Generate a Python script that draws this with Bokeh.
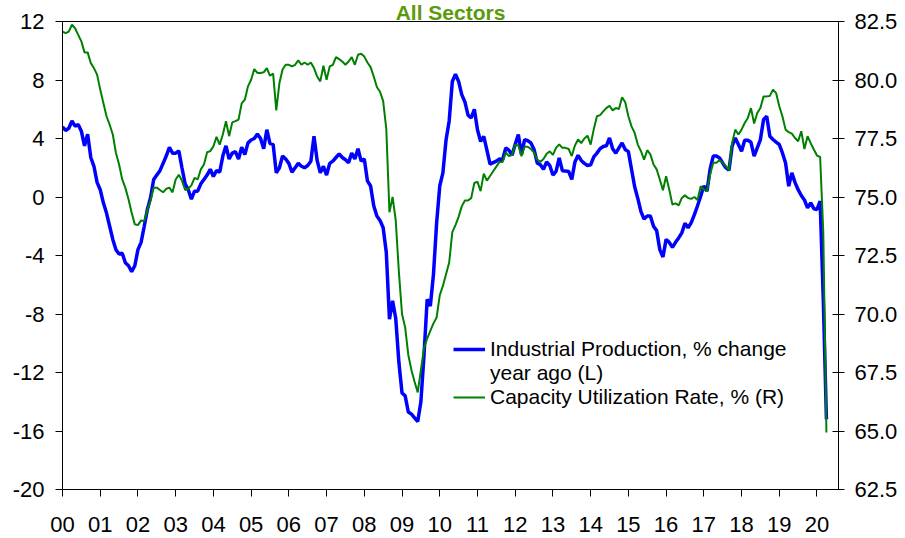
import numpy as np
from bokeh.plotting import figure
from bokeh.models import (Range1d, LinearAxis, FixedTicker, NumeralTickFormatter,
                          Legend, LegendItem)
from bokeh.embed import file_html
from bokeh.resources import INLINE

# ---------------- data (monthly, Jan 2000 .. Apr 2020) ----------------
ip_yoy = [
    4.8, 4.55, 4.7, 5.2, 4.85, 4.95, 4.5, 3.5, 4.3, 2.7, 2.1, 1.0,
    0.5, -0.4, -1.1, -2.0, -2.9, -3.6, -3.9, -3.85, -4.5, -4.7, -5.1, -4.7,
    -3.6, -3.1, -2.0, -0.85, -0.05, 1.2, 1.5, 1.8, 2.3, 2.8, 3.4, 3.0,
    3.0, 3.15, 2.0, 0.9, 0.5, -0.15, 0.4, 0.4, 0.9, 1.2, 1.5, 1.9,
    1.4, 1.8, 1.7, 2.8, 3.5, 2.6, 3.0, 3.1, 2.6, 3.4, 2.9, 3.7,
    3.9, 4.0, 4.3, 4.0, 3.3, 4.6, 3.65, 3.6, 1.65, 2.0, 2.8, 2.6,
    2.3, 1.7, 2.0, 2.3, 2.1, 2.0, 2.15, 2.45, 4.15, 2.5, 1.65, 2.1,
    1.5, 2.3, 2.45, 2.7, 2.95, 2.7, 2.55, 2.35, 3.0, 2.6, 3.3, 2.45,
    2.6, 1.1, 0.75, -0.6, -1.3, -1.6, -2.1, -3.8, -8.35, -7.1, -8.3, -11.3,
    -13.4, -13.6, -14.7, -14.85, -15.1, -15.35, -14.0, -10.8, -7.0, -7.45, -5.3, -1.8,
    0.75, 1.65, 3.9, 5.2, 7.9, 8.4, 7.9, 7.0, 6.5, 5.6, 5.4, 6.0,
    4.6, 3.8, 4.15, 3.2, 2.25, 2.35, 2.45, 2.6, 2.55, 3.35, 3.2, 2.85,
    3.6, 4.27, 2.9, 3.93, 3.85, 3.7, 3.25, 2.33, 2.2, 1.9, 2.4, 2.15,
    1.5, 1.75, 2.67, 1.8, 1.77, 1.75, 1.2, 2.4, 2.85, 2.5, 2.3, 2.15,
    2.2, 2.75, 3.0, 3.3, 3.45, 3.5, 4.04, 3.3, 3.0, 3.36, 3.7, 3.25,
    3.1, 1.9, 0.7, -0.1, -1.0, -1.5, -1.3, -1.3, -2.0, -2.3, -3.6, -4.1,
    -2.9, -3.1, -3.45, -3.1, -2.8, -2.45, -1.8, -2.1, -1.75, -1.2, -0.6, 0.05,
    0.75, 0.4, 1.9, 2.8, 2.8, 2.67, 2.33, 2.0, 1.83, 3.47, 4.04, 3.59,
    3.13, 3.88, 3.88, 3.74, 2.79, 3.36, 3.93, 5.29, 5.52, 4.15, 3.93, 3.75,
    3.59, 3.01, 2.33, 0.74, 1.65, 1.0, 0.5, 0.1, -0.2, -0.74, -0.4, -0.8,
    -0.85, -0.28, -7.0, -15.2,
]
cap_util = [
    82.07, 82.0, 82.07, 82.36, 82.21, 81.93, 81.65, 81.18, 81.18, 80.72, 80.51, 80.23,
    79.59, 79.02, 78.45, 78.09, 77.67, 76.88, 76.39, 75.75, 75.39, 74.9, 74.33, 73.83,
    73.8, 74.0, 73.97, 74.45, 74.85, 75.4, 75.4, 75.3, 75.2, 75.35, 75.4, 75.2,
    75.75, 75.95, 75.7, 75.3, 75.35, 75.5, 75.82, 75.75, 76.18, 76.39, 76.91, 76.96,
    77.17, 77.57, 77.24, 77.67, 78.24, 77.6, 78.19, 78.24, 78.31, 79.0, 79.16, 79.73,
    80.01, 80.47, 80.3, 80.3, 80.33, 80.51, 80.18, 80.27, 78.7, 79.87, 80.45, 80.65,
    80.65, 80.58, 80.65, 80.84, 80.65, 80.75, 80.65, 80.75, 80.51, 80.15, 79.94, 80.61,
    80.01, 80.58, 80.65, 80.98, 80.89, 80.79, 80.65, 80.79, 80.98, 80.65, 81.08, 81.12,
    81.0, 80.75, 80.55, 80.15, 79.7, 79.5, 79.1, 77.9, 74.35, 75.0, 74.0, 71.8,
    70.0, 69.42, 68.25, 67.6, 67.1, 66.65, 67.6, 68.55, 68.95, 69.28, 69.6, 69.85,
    70.8, 71.2, 71.7, 72.2, 73.5, 73.8, 74.15, 74.6, 74.85, 74.85, 74.95, 75.6,
    75.65, 75.25, 76.0, 75.7, 75.9, 76.1, 76.3, 76.5, 76.5, 76.9, 76.75, 76.8,
    77.24, 77.2, 76.74, 77.15, 77.15, 77.05, 76.9, 76.6, 76.5, 76.62, 76.85, 76.95,
    76.8, 77.1, 77.25, 77.1, 77.1, 77.05, 76.75, 77.2, 77.46, 77.3, 77.5, 77.62,
    77.24, 77.9, 78.45, 78.5, 78.66, 78.8, 78.9, 78.7, 78.8, 78.76, 79.26, 79.05,
    78.45, 78.02, 77.74, 77.24, 76.96, 76.6, 77.0, 76.82, 76.39, 76.18, 75.75, 75.29,
    75.89, 75.32, 74.68, 74.73, 74.64, 74.96, 75.07, 74.96, 74.92, 75.0, 74.87, 75.46,
    75.32, 75.25, 75.96, 76.46, 76.46, 76.57, 76.46, 76.32, 76.15, 77.31, 77.88, 77.67,
    77.88, 78.16, 78.38, 78.8, 78.14, 78.59, 78.8, 79.3, 79.3, 79.32, 79.59, 79.44,
    78.88, 78.45, 77.88, 77.77, 77.71, 77.52, 77.38, 77.81, 77.05, 77.6, 77.3, 77.03,
    76.77, 76.71, 73.5, 64.94,
]
year_ticks = list(range(0, 21))
year_labels = ["%02d" % y for y in year_ticks]
left_ticks = [-20, -16, -12, -8, -4, 0, 4, 8, 12]
left_labels = ["-20", "-16", "-12", "-8", "-4", "0", "4", "8", "12"]
right_ticks = [62.5, 65.0, 67.5, 70.0, 72.5, 75.0, 77.5, 80.0, 82.5]
title_text = "All Sectors"
label_ip = "Industrial Production, % change"
label_ip2 = "year ago (L)"
label_cu = "Capacity Utilization Rate, % (R)"

# x in years since Jan 2000 (month index / 12)
x = np.arange(len(ip_yoy)) / 12.0

FONT = "Liberation Sans"

p = figure(width=905, height=538, output_backend="svg", toolbar_location=None,
           x_range=Range1d(0, 20.57), y_range=Range1d(-20, 12),
           min_border_left=62, min_border_right=67, min_border_top=20,
           min_border_bottom=49, title=title_text)
p.title.align = "center"
p.title.text_font = FONT
p.title.text_font_style = "bold"
p.title.text_font_size = "21px"
p.title.text_color = "#5b9a0b"
p.title.standoff = -4
p.title.offset = -7

p.extra_y_ranges = {"cu": Range1d(62.5, 82.5)}
p.xgrid.visible = False
p.ygrid.visible = False
p.outline_line_color = "black"
p.outline_line_width = 1
p.background_fill_color = "white"
p.border_fill_color = "white"

r_ip = p.line(x, ip_yoy, line_color="#0000ff", line_width=3.5)
r_cu = p.line(x, cap_util, line_color="#008000", line_width=2, y_range_name="cu")

# bottom axis
xa = p.xaxis[0]
xa.ticker = FixedTicker(ticks=year_ticks)
xa.major_label_overrides = {t: l for t, l in zip(year_ticks, year_labels)}
xa.minor_tick_line_color = None
xa.major_tick_in = 0
xa.major_tick_out = 7
xa.major_label_standoff = 20
xa.axis_line_color = "black"
xa.major_tick_line_color = "black"
xa.major_label_text_font = FONT
xa.major_label_text_font_size = "22px"
xa.major_label_text_color = "black"

# left axis
ya = p.yaxis[0]
ya.ticker = FixedTicker(ticks=left_ticks)
ya.major_label_overrides = {t: l for t, l in zip(left_ticks, left_labels)}
ya.minor_tick_line_color = None
ya.major_tick_in = 0
ya.major_tick_out = 7
ya.major_label_standoff = 11
ya.axis_line_color = "black"
ya.major_label_text_font = FONT
ya.major_label_text_font_size = "22px"
ya.major_label_text_color = "black"

# right axis
ra = LinearAxis(y_range_name="cu", ticker=FixedTicker(ticks=right_ticks),
                formatter=NumeralTickFormatter(format="0.0"))
ra.minor_tick_line_color = None
ra.major_tick_in = 6
ra.major_tick_out = 6
ra.major_label_standoff = 10
ra.axis_line_color = "black"
ra.major_label_text_font = FONT
ra.major_label_text_font_size = "22px"
ra.major_label_text_color = "black"
p.add_layout(ra, "right")

legend = Legend(items=[LegendItem(label=label_ip, renderers=[r_ip]),
                       LegendItem(label=label_ip2, renderers=[]),
                       LegendItem(label=label_cu, renderers=[r_cu])],
                location=(391, 80), orientation="vertical",
                border_line_color=None, background_fill_alpha=0,
                label_text_font=FONT, label_text_font_size="21px",
                label_text_color="black", glyph_width=32, glyph_height=20,
                label_standoff=5, padding=0, spacing=0, margin=0,
                label_height=20)
p.add_layout(legend, "center")

open("out.html", "w").write(file_html(p, INLINE))
